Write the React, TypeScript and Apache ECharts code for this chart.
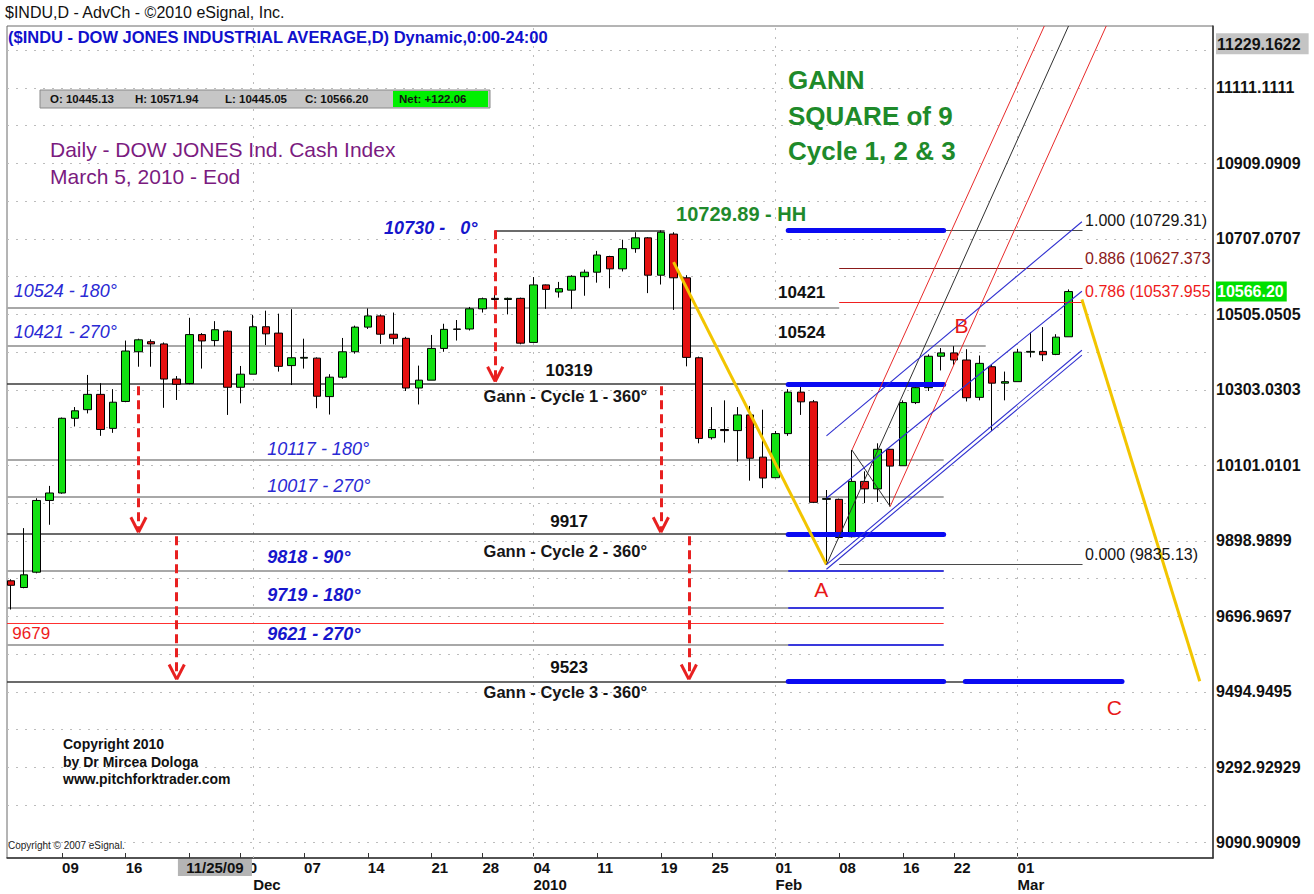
import React, { useEffect, useRef } from "react";
import * as echarts from "echarts";

const FONT = "'Liberation Sans', Arial, Helvetica, sans-serif";

// ---------- price data (daily candles, $INDU) ----------
// index of the first candle relative to 09 Nov 2009 (= 0)
const FIRST_INDEX = -4;
const dates = [
  "2009-11-03", "2009-11-04", "2009-11-05", "2009-11-06", "2009-11-09", "2009-11-10", "2009-11-11", "2009-11-12",
  "2009-11-13", "2009-11-16", "2009-11-17", "2009-11-18", "2009-11-19", "2009-11-20", "2009-11-23", "2009-11-24",
  "2009-11-25", "2009-11-27", "2009-11-30", "2009-12-01", "2009-12-02", "2009-12-03", "2009-12-04", "2009-12-07",
  "2009-12-08", "2009-12-09", "2009-12-10", "2009-12-11", "2009-12-14", "2009-12-15", "2009-12-16", "2009-12-17",
  "2009-12-18", "2009-12-21", "2009-12-22", "2009-12-23", "2009-12-24", "2009-12-28", "2009-12-29", "2009-12-30",
  "2009-12-31", "2010-01-04", "2010-01-05", "2010-01-06", "2010-01-07", "2010-01-08", "2010-01-11", "2010-01-12",
  "2010-01-13", "2010-01-14", "2010-01-15", "2010-01-19", "2010-01-20", "2010-01-21", "2010-01-22", "2010-01-25",
  "2010-01-26", "2010-01-27", "2010-01-28", "2010-01-29", "2010-02-01", "2010-02-02", "2010-02-03", "2010-02-04",
  "2010-02-05", "2010-02-08", "2010-02-09", "2010-02-10", "2010-02-11", "2010-02-12", "2010-02-16", "2010-02-17",
  "2010-02-18", "2010-02-19", "2010-02-22", "2010-02-23", "2010-02-24", "2010-02-25", "2010-02-26", "2010-03-01",
  "2010-03-02", "2010-03-03", "2010-03-04", "2010-03-05",
];
const opens = [
  9792, 9774, 9815, 10007, 10027, 10227, 10250, 10291, 10200, 10272, 10405, 10432, 10426, 10332, 10320, 10451,
  10435, 10460, 10310, 10345, 10472, 10455, 10368, 10388, 10388, 10285, 10337, 10405, 10471, 10501, 10452, 10441,
  10308, 10329, 10414, 10465, 10466, 10520, 10548, 10545, 10548, 10430, 10584, 10565, 10570, 10606, 10618, 10660,
  10627, 10681, 10710, 10610, 10720, 10603, 10389, 10175, 10197, 10194, 10236, 10123, 10068, 10186, 10297, 10271,
  10010, 10010, 9910, 10058, 10038, 10144, 10100, 10269, 10309, 10393, 10402, 10383, 10283, 10365, 10321, 10325,
  10404, 10406, 10398, 10445.13,
];
const closes = [
  9780, 9808, 10007, 10027, 10227, 10247, 10291, 10197, 10270, 10407, 10437, 10426, 10332, 10318, 10451, 10434,
  10464, 10310, 10345, 10472, 10453, 10366, 10389, 10390, 10286, 10337, 10405, 10471, 10501, 10452, 10441, 10308,
  10329, 10414, 10465, 10466, 10520, 10547, 10545, 10548, 10428, 10584, 10572, 10574, 10607, 10618, 10664, 10627,
  10681, 10710, 10610, 10725, 10603, 10390, 10173, 10197, 10194, 10236, 10120, 10067, 10186, 10297, 10271, 10002,
  10012, 9908, 10058, 10038, 10144, 10099, 10269, 10309, 10393, 10402, 10383, 10282, 10374, 10321, 10325, 10404,
  10406, 10397, 10444.14, 10566.2,
];
const lows = [
  9715, 9772, 9812, 9942, 10025, 10205, 10240, 10180, 10188, 10270, 10365, 10365, 10255, 10276, 10318, 10360,
  10420, 10236, 10267, 10345, 10423, 10352, 10316, 10360, 10254, 10237, 10333, 10400, 10466, 10426, 10425, 10300,
  10264, 10329, 10405, 10435, 10462, 10510, 10530, 10505, 10425, 10430, 10520, 10550, 10520, 10555, 10590, 10575,
  10620, 10670, 10562, 10585, 10517, 10366, 10160, 10170, 10162, 10111, 10060, 10040, 10068, 10180, 10236, 10000,
  9835.13, 9905, 9908, 10000, 10003, 9991, 10100, 10265, 10300, 10355, 10370, 10272, 10275, 10193, 10275, 10325,
  10390, 10380, 10396, 10445.05,
];
const highs = [
  9796, 9933, 10013, 10046, 10229, 10257, 10343, 10321, 10305, 10435, 10440, 10438, 10430, 10340, 10496, 10455,
  10487, 10462, 10367, 10504, 10515, 10507, 10519, 10440, 10390, 10345, 10442, 10475, 10521, 10505, 10510, 10445,
  10368, 10450, 10480, 10490, 10525, 10550, 10560, 10550, 10550, 10605, 10585, 10592, 10610, 10625, 10675, 10662,
  10705, 10725, 10712, 10729.89, 10725, 10610, 10392, 10257, 10275, 10257, 10260, 10250, 10193, 10305, 10317, 10276,
  10035, 10012, 10142, 10085, 10160, 10145, 10275, 10315, 10398, 10415, 10420, 10412, 10395, 10370, 10352, 10413,
  10457, 10471, 10452, 10571.94,
];

// ---------- axes ----------
const X_MIN = -4.32;
const X_MAX = 90.34;
const Y_MIN = 9050;
const Y_MAX = 11277;
const xTickIndex = [0, 5, 10, 14, 19, 24, 29, 33, 37, 42, 47, 51, 56, 61, 66, 70, 75];
const xTickLabels = ["09", "16", "23", "30", "07", "14", "21", "28", "04", "11", "19", "25", "01", "08", "16", "22", "01"];
const monthIndex = [15, 37, 56, 75];
const monthLabels = ["Dec", "2010", "Feb", "Mar"];
const yTickValues = [9090.90909, 9292.92929, 9494.9495, 9696.9697, 9898.9899, 10101.0101, 10303.0303, 10505.0505, 10707.0707, 10909.0909, 11111.1111];
const yTickLabels = ["9090.90909", "9292.92929", "9494.9495", "9696.9697", "9898.9899", "10101.0101", "10303.0303", "10505.0505", "10707.0707", "10909.0909", "11111.1111"];
const yGridValues = [9090.909, 9191.919, 9292.929, 9393.939, 9494.949, 9595.96, 9696.97, 9797.98, 9898.99, 10000, 10101.01, 10202.02, 10303.03, 10404.04, 10505.05, 10606.06, 10707.07, 10808.08, 10909.09, 11010.1, 11111.11, 11212.12];
const xGridValues = [15, 37, 56, 75];
const scaleHigh = 11229.1622;
const cursorIndex = 12;
const cursorLabel = "11/25/09";

// ---------- Gann levels & drawings ----------
const levelLines = [
  { price: 10524, from: X_MIN, to: 61, kind: "gray" },
  { price: 10421, from: X_MIN, to: 72.5, kind: "gray" },
  { price: 10319, from: X_MIN, to: 69.2, kind: "black" },
  { price: 10117, from: X_MIN, to: 69.2, kind: "gray" },
  { price: 10017, from: X_MIN, to: 69.2, kind: "gray" },
  { price: 9917, from: X_MIN, to: 69.2, kind: "black" },
  { price: 9818, from: X_MIN, to: 69.2, kind: "gray" },
  { price: 9719, from: X_MIN, to: 69.2, kind: "gray" },
  { price: 9679, from: X_MIN, to: 69.2, kind: "red" },
  { price: 9621, from: X_MIN, to: 69.2, kind: "gray" },
  { price: 9523, from: X_MIN, to: 83.2, kind: "black" },
  { price: 10730, from: 34, to: 47.3, kind: "black" },
];
const blueSegments = [
  { price: 10730, from: 57, to: 69.2, kind: "thick" },
  { price: 10319, from: 57, to: 69.2, kind: "thick" },
  { price: 9917, from: 57, to: 69.2, kind: "thick" },
  { price: 9523, from: 57, to: 69.2, kind: "thick" },
  { price: 9523, from: 70.9, to: 83.2, kind: "thick" },
  { price: 9818, from: 57, to: 69.2, kind: "thin" },
  { price: 9719, from: 57, to: 69.2, kind: "thin" },
  { price: 9621, from: 57, to: 69.2, kind: "thin" },
];
const fibLevels = [
  { ratio: "1.000", price: 10729.31, label: "1.000 (10729.31)", kind: "fibBlack" },
  { ratio: "0.886", price: 10627.373, label: "0.886 (10627.373", kind: "fibDark" },
  { ratio: "0.786", price: 10537.955, label: "0.786 (10537.955", kind: "fibRed" },
  { ratio: "0.000", price: 9835.13, label: "0.000 (9835.13)", kind: "fibBlack" },
];
const fibFrom = 61;
const fibTo = 80.1;
const trendLines = [
  { from: [48, 10645], to: [60, 9835.13], kind: "yellow" },
  { from: [80.05, 10545], to: [89.3, 9523], kind: "yellow" },
  { from: [60, 9835.13], to: [79, 11277], kind: "median" },
  { from: [62, 10142], to: [65, 9991], kind: "median" },
  { from: [62, 10142], to: [77.1, 11277], kind: "tine" },
  { from: [65, 9991], to: [81.96, 11277], kind: "tine" },
  { from: [60, 10180], to: [80.05, 10753], kind: "channel" },
  { from: [60, 10013], to: [80.05, 10567], kind: "channel" },
  { from: [60, 9835.13], to: [80.05, 10409], kind: "channel" },
  { from: [60, 9823], to: [80.05, 10396], kind: "channel" },
];
const cycleArrows = [
  { x: 34, from: 10730, to: 10325 },
  { x: 6, from: 10313, to: 9922 },
  { x: 9, from: 9911, to: 9528 },
  { x: 47, from: 10313, to: 9922 },
  { x: 49.2, from: 9911, to: 9528 },
];
const annotations = [
  { text: "10730 -   0°", x: 32.6, y: 10736, align: "right", kind: "blueBold" },
  { text: "10524 - 180°", x: -3.8, y: 10568, align: "left", kind: "blue" },
  { text: "10421 - 270°", x: -3.8, y: 10458, align: "left", kind: "blue" },
  { text: "10117 - 180°", x: 16.1, y: 10145, align: "left", kind: "blue" },
  { text: "10017 - 270°", x: 16.1, y: 10046, align: "left", kind: "blue" },
  { text: "9818 - 90°", x: 16.1, y: 9856, align: "left", kind: "blueBold" },
  { text: "9719 - 180°", x: 16.1, y: 9754, align: "left", kind: "blueBold" },
  { text: "9621 - 270°", x: 16.1, y: 9650, align: "left", kind: "blueBold" },
  { text: "9679", x: -3.9, y: 9650, align: "left", kind: "red" },
  { text: "10319", x: 39.8, y: 10356, align: "center", kind: "level" },
  { text: "Gann - Cycle 1 - 360°", x: 39.5, y: 10287, align: "center", kind: "cycle" },
  { text: "9917", x: 39.8, y: 9952, align: "center", kind: "level" },
  { text: "Gann - Cycle 2 - 360°", x: 39.5, y: 9872, align: "center", kind: "cycle" },
  { text: "9523", x: 39.8, y: 9559, align: "center", kind: "level" },
  { text: "Gann - Cycle 3 - 360°", x: 39.5, y: 9495, align: "center", kind: "cycle" },
  { text: "10729.89 - HH", x: 48.2, y: 10774, align: "left", kind: "hh" },
  { text: "10421", x: 56.2, y: 10563, align: "left", kind: "level" },
  { text: "10524", x: 56.2, y: 10456, align: "left", kind: "level" },
  { text: "A", x: 59.6, y: 9768, align: "center", kind: "point" },
  { text: "B", x: 70.6, y: 10474, align: "center", kind: "point" },
  { text: "C", x: 82.6, y: 9452, align: "center", kind: "point" },
];
const fibLabelX = 80.3;
const fibLabelLift = 28; // price units above the line

const lineStyles: Record<string, any> = {
  gray: { color: "#a8a8a8", width: 2, opacity: 1 },
  black: { color: "#3a3a3a", width: 1.5, opacity: 1 },
  red: { color: "#ff3030", width: 1, opacity: 1 },
  thick: { color: "#0a0af2", width: 5, cap: "round", opacity: 1 },
  thin: { color: "#1414ee", width: 1.6, opacity: 1 },
  fibBlack: { color: "#4a4a4a", width: 1.2, opacity: 1 },
  fibDark: { color: "#8b1a1a", width: 1.2, opacity: 1 },
  fibRed: { color: "#f02020", width: 1.2, opacity: 1 },
  yellow: { color: "#f2c500", width: 3, opacity: 1 },
  median: { color: "#303030", width: 1, opacity: 1 },
  tine: { color: "#e82a2a", width: 1, opacity: 1 },
  channel: { color: "#3030d0", width: 1.1, opacity: 1 },
};
const textStyles: Record<string, any> = {
  blue: { color: "#2a2ad4", size: 18, weight: "normal", style: "italic" },
  blueBold: { color: "#1616cc", size: 18, weight: "bold", style: "italic" },
  red: { color: "#ee1c1c", size: 17, weight: "normal", style: "normal" },
  level: { color: "#111111", size: 17, weight: "bold", style: "normal" },
  cycle: { color: "#161616", size: 16.5, weight: "bold", style: "normal" },
  hh: { color: "#1f8a2c", size: 20, weight: "bold", style: "normal" },
  point: { color: "#e81818", size: 21, weight: "normal", style: "normal" },
  fibBlack: { color: "#151515", size: 16, weight: "normal", style: "normal" },
  fibDark: { color: "#8b1a1a", size: 16, weight: "normal", style: "normal" },
  fibRed: { color: "#ee1a1a", size: 16, weight: "normal", style: "normal" },
};

export default function App() {
  const ref = useRef<HTMLDivElement>(null);

  useEffect(() => {
    document.body.style.margin = "0";
    const chart = echarts.init(ref.current as HTMLDivElement, null, { renderer: "svg" });
    const last = closes.length - 1;

    const candleRows = dates.map((_, i) => [i + FIRST_INDEX, opens[i], closes[i], lows[i], highs[i]]);

    const gridItems = [
      ...yGridValues.map((v) => ({ coords: [[X_MIN, v], [X_MAX, v]] })),
      ...xGridValues.map((x) => ({ coords: [[x, Y_MIN], [x, Y_MAX]] })),
    ];
    const levelItems = levelLines.map((l) => ({
      coords: [[l.from, l.price], [l.to, l.price]],
      lineStyle: lineStyles[l.kind],
    }));
    const overlayItems = [
      ...fibLevels.map((f) => ({ coords: [[fibFrom, f.price], [fibTo, f.price]], lineStyle: lineStyles[f.kind] })),
      ...blueSegments.map((b) => ({ coords: [[b.from, b.price], [b.to, b.price]], lineStyle: lineStyles[b.kind] })),
      ...trendLines.map((t) => ({ coords: [t.from, t.to], lineStyle: lineStyles[t.kind] })),
    ];
    const arrowDash = cycleArrows.map((a) => ({ coords: [[a.x, a.from], [a.x, a.to + 6]] }));
    const arrowHeads = cycleArrows.flatMap((a) => [
      { coords: [[a.x - 0.6, a.to + 40], [a.x, a.to]] },
      { coords: [[a.x + 0.6, a.to + 40], [a.x, a.to]] },
    ]);

    // the "23" tick is hidden under the cursor date box, so it gets no label
    const hiddenUnderCursor = [10];
    const xLabelValues = [
      ...xTickIndex.filter((i) => !hiddenUnderCursor.includes(i)),
      ...monthIndex.filter((m) => !xTickIndex.includes(m)),
    ].sort((a, b) => a - b);
    const yLabelValues = [...yTickValues, scaleHigh, closes[last]];

    const labelBase = { fontFamily: FONT, fontSize: 16, fontWeight: "bold", color: "#111" };

    chart.setOption({
      animation: false,
      backgroundColor: "#ffffff",
      grid: {
        left: 7, right: 101, top: 26, bottom: 36,
        show: true, borderColor: "#6a6a6a", borderWidth: 1, backgroundColor: "#ffffff",
        containLabel: false, outerBoundsMode: "none",
      },
      xAxis: {
        type: "value", min: X_MIN, max: X_MAX,
        axisLine: { show: true, onZero: false, lineStyle: { color: "#333", width: 1.5 } },
        axisTick: { show: true, inside: true, length: 5, customValues: xTickIndex, lineStyle: { color: "#333" } },
        splitLine: { show: false },
        axisLabel: {
          customValues: xLabelValues,
          hideOverlap: false,
          align: "left",
          margin: 1,
          fontFamily: FONT, fontSize: 15, fontWeight: "bold", color: "#111", lineHeight: 17,
          formatter: (v: number) => {
            const i = xTickIndex.indexOf(Math.round(v));
            const m = monthIndex.indexOf(Math.round(v));
            const day = i >= 0 ? xTickLabels[i] : " ";
            return m >= 0 ? day + "\n" + monthLabels[m] : day;
          },
        },
      },
      yAxis: {
        type: "value", position: "right", min: Y_MIN, max: Y_MAX, scale: true,
        axisLine: { show: true, onZero: false, lineStyle: { color: "#333", width: 1.5 } },
        axisTick: { show: false },
        splitLine: { show: false },
        axisLabel: {
          customValues: yLabelValues,
          hideOverlap: false,
          align: "left",
          margin: 3,
          formatter: (v: number) => {
            if (Math.abs(v - scaleHigh) < 1e-3) return "{hi|" + scaleHigh.toFixed(4) + "}";
            if (Math.abs(v - closes[last]) < 1e-3) return "{cur|" + closes[last].toFixed(2) + "}";
            const k = yTickValues.findIndex((t) => Math.abs(t - v) < 1e-3);
            return "{n|" + (k >= 0 ? yTickLabels[k] : "") + "}";
          },
          rich: {
            n: labelBase,
            hi: { ...labelBase, backgroundColor: "#c4c4c4", padding: [3, 8, 2, 1] },
            cur: { ...labelBase, color: "#ffffff", backgroundColor: "#00e000", padding: [2, 3, 2, 1] },
          },
        },
      },
      series: [
        {
          name: "grid", type: "lines", coordinateSystem: "cartesian2d", silent: true, z: 1,
          lineStyle: { color: "#bcbcbc", width: 1, type: [2, 7], opacity: 1 },
          data: gridItems,
        },
        {
          name: "levels", type: "lines", coordinateSystem: "cartesian2d", silent: true, z: 2,
          lineStyle: { opacity: 1 },
          data: levelItems,
        },
        {
          name: "$INDU", type: "candlestick", silent: true, z: 3,
          dimensions: ["x", "open", "close", "low", "high"],
          encode: { x: 0, y: [1, 2, 3, 4] },
          data: candleRows,
          barWidth: 8,
          itemStyle: {
            color: "#12e012", color0: "#e41010",
            borderColor: "#000", borderColor0: "#000", borderColorDoji: "#000", borderWidth: 1,
          },
        },
        {
          name: "drawings", type: "lines", coordinateSystem: "cartesian2d", silent: true, z: 4,
          lineStyle: { opacity: 1 },
          data: overlayItems,
        },
        {
          name: "cycleArrows", type: "lines", coordinateSystem: "cartesian2d", silent: true, z: 4,
          lineStyle: { color: "#e82020", width: 3, type: [9, 5], opacity: 1 },
          data: arrowDash,
        },
        {
          name: "arrowHeads", type: "lines", coordinateSystem: "cartesian2d", silent: true, z: 4,
          lineStyle: { color: "#e82020", width: 3, opacity: 1 },
          data: arrowHeads,
        },
      ],
    });

    const px = (x: number, y: number) => chart.convertToPixel({ gridIndex: 0 }, [x, y]) as number[];
    const text = (x: number, y: number, t: string, o: any) => ({
      type: "text", x, y, z: 100, silent: true,
      style: {
        text: t, fill: o.color, fontFamily: FONT, fontSize: o.size, fontWeight: o.weight || "normal",
        fontStyle: o.style || "normal", align: o.align || "left", verticalAlign: o.vAlign || "middle",
      },
    });

    const graphics: any[] = [];
    // header
    graphics.push(text(5, 12, "$INDU,D - AdvCh - ©2010 eSignal, Inc.", { color: "#111", size: 16 }));
    graphics.push(text(8, 37, "($INDU - DOW JONES INDUSTRIAL AVERAGE,D) Dynamic,0:00-24:00", { color: "#1010cc", size: 16.5, weight: "bold" }));
    // OHLC strip
    const net = closes[last] - closes[last - 1];
    graphics.push({ type: "rect", z: 100, shape: { x: 40, y: 90, width: 450, height: 18 }, style: { fill: "#c6c6c6", stroke: "#8a8a8a", lineWidth: 1 } });
    graphics.push({ type: "rect", z: 101, shape: { x: 393, y: 91, width: 95, height: 16 }, style: { fill: "#00f000" } });
    const ohlcItems = [
      { x: 50, t: "O: " + opens[last].toFixed(2) },
      { x: 135, t: "H: " + highs[last].toFixed(2) },
      { x: 225, t: "L: " + lows[last].toFixed(2) },
      { x: 305, t: "C: " + closes[last].toFixed(2) },
      { x: 399, t: "Net: +" + net.toFixed(2) },
    ];
    ohlcItems.forEach((o) => graphics.push({ ...text(o.x, 99, o.t, { color: "#111", size: 11.5, weight: "bold" }), z: 102 }));
    // titles
    graphics.push(text(50, 149, "Daily - DOW JONES Ind. Cash Index", { color: "#7b1b7f", size: 21 }));
    graphics.push(text(50, 176, "March 5, 2010 - Eod", { color: "#7b1b7f", size: 21 }));
    ["GANN", "SQUARE of 9", "Cycle 1, 2 & 3"].forEach((t, i) =>
      graphics.push(text(788, 80 + i * 35.5, t, { color: "#1e8a2a", size: 26, weight: "bold" }))
    );
    ["Copyright 2010", "by Dr Mircea Dologa", "www.pitchforktrader.com"].forEach((t, i) =>
      graphics.push(text(63, 744 + i * 17.5, t, { color: "#111", size: 14, weight: "bold" }))
    );
    graphics.push(text(8, 845, "Copyright © 2007 eSignal.", { color: "#222", size: 10 }));

    // data-anchored annotations
    annotations.forEach((a) => {
      const p = px(a.x, a.y);
      graphics.push(text(p[0], p[1], a.text, { ...textStyles[a.kind], align: a.align }));
    });
    fibLevels.forEach((f) => {
      const p = px(fibLabelX, f.price + fibLabelLift);
      graphics.push(text(p[0], p[1], f.label, { ...textStyles[f.kind], align: "left" }));
    });

    // x-axis cursor date box
    const c = px(cursorIndex, Y_MIN);
    graphics.push({ type: "rect", z: 110, shape: { x: c[0] - 37, y: c[1] + 1, width: 74, height: 17 }, style: { fill: "#b4b4b4" } });
    graphics.push({ ...text(c[0], c[1] + 9.5, cursorLabel, { color: "#111", size: 15, weight: "bold", align: "center" }), z: 111 });

    chart.setOption({ graphic: graphics });

    return () => chart.dispose();
  }, []);

  return <div ref={ref} style={{ width: 1314, height: 894, background: "#ffffff" }} />;
}
